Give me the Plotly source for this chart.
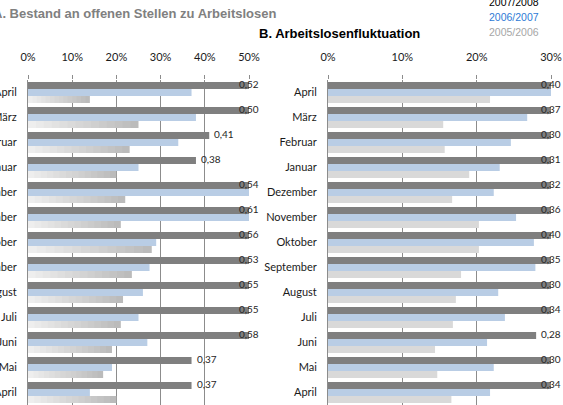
import plotly.graph_objects as go

# ---------------- data ----------------
months = ["April", "März", "Februar", "Januar", "Dezember", "November", "Oktober",
          "September", "August", "Juli", "Juni", "Mai", "April"]
series_names = ["2007/2008", "2006/2007", "2005/2006"]

A_2007 = [0.52, 0.50, 0.41, 0.38, 0.54, 0.61, 0.56, 0.53, 0.55, 0.55, 0.58, 0.37, 0.37]
A_2006 = [0.37, 0.38, 0.34, 0.25, 0.51, 0.52, 0.29, 0.275, 0.26, 0.25, 0.27, 0.19, 0.14]
A_2005 = [0.14, 0.25, 0.23, 0.20, 0.22, 0.21, 0.28, 0.235, 0.215, 0.21, 0.19, 0.17, 0.20]

B_2007 = [0.40, 0.37, 0.30, 0.31, 0.32, 0.36, 0.40, 0.35, 0.30, 0.34, 0.28, 0.30, 0.34]
B_2006 = [0.31, 0.268, 0.246, 0.231, 0.223, 0.253, 0.277, 0.279, 0.229, 0.238, 0.214, 0.223, 0.218]
B_2005 = [0.218, 0.155, 0.157, 0.19, 0.167, 0.203, 0.203, 0.179, 0.172, 0.168, 0.144, 0.147, 0.166]

x_ticks_A = [0, 0.1, 0.2, 0.3, 0.4, 0.5]
x_ticks_B = [0, 0.1, 0.2, 0.3]
title_A = "A. Bestand an offenen Stellen zu Arbeitslosen"
title_B = "B. Arbeitslosenfluktuation"

# ---------------- style ----------------
W, H = 563, 405
DARK = "#7f7f7f"
BLUE = "#b9cde5"
LIGHT = "#d9d9d9"
GRID = "#8c8c8c"
TICKFONT = dict(family="Lato, Calibri, sans-serif", size=11, color="#1a1a1a")
LABELFONT = dict(family="Lato, Calibri, sans-serif", size=10, color="#262626")
TITLEFAMILY = "Liberation Sans, Arial, sans-serif"

ypos = list(range(len(months)))
BARGAP = 0.16
slot = (1 - BARGAP) / 3

fig = go.Figure()


def add_panel(xa, ya, d07, d06, d05, gradient):
    fig.add_trace(go.Bar(y=ypos, x=d07, orientation="h", marker=dict(color=DARK, line_width=0),
                         offsetgroup="a", xaxis=xa, yaxis=ya, showlegend=False, hoverinfo="x"))
    fig.add_trace(go.Bar(y=ypos, x=d06, orientation="h", marker=dict(color=BLUE, line_width=0),
                         offsetgroup="b", xaxis=xa, yaxis=ya, showlegend=False, hoverinfo="x"))
    if gradient:
        n = 14
        c0 = (0xbb, 0xbb, 0xbb)  # right end (dark)
        c1 = (0xee, 0xee, 0xee)  # left end (light)
        for k in range(n):
            t = k / (n - 1)
            col = "rgb(%d,%d,%d)" % tuple(round(c0[i] + (c1[i] - c0[i]) * t) for i in range(3))
            frac = 1 - k / n
            fig.add_trace(go.Bar(y=ypos, x=[v * frac for v in d05], orientation="h",
                                 marker=dict(color=col, line_width=0), offsetgroup="c",
                                 xaxis=xa, yaxis=ya, showlegend=False, hoverinfo="skip"))
    else:
        fig.add_trace(go.Bar(y=ypos, x=d05, orientation="h", marker=dict(color=LIGHT, line_width=0),
                             offsetgroup="c", xaxis=xa, yaxis=ya, showlegend=False, hoverinfo="x"))


add_panel("x", "y", A_2007, A_2006, A_2005, True)
add_panel("x2", "y2", B_2007, B_2006, B_2005, False)

# data labels on the dark series
annotations = []
for xref, yref, vals, xmax in (("x", "y", A_2007, 0.5), ("x2", "y2", B_2007, 0.3)):
    for i, v in enumerate(vals):
        txt = ("%.2f" % v).replace(".", ",")
        clipped = v >= xmax - 1e-9
        annotations.append(dict(
            x=min(v, xmax), y=i - 0.5 + BARGAP / 2 + slot / 2, xref=xref, yref=yref,
            text=txt, showarrow=False, font=LABELFONT,
            xanchor="center" if clipped else "left", xshift=0 if clipped else 3,
            yanchor="middle", yshift=2))

# titles
annotations.append(dict(x=278 / W, y=1 - 14 / H, xref="paper", yref="paper", text="<b>%s</b>" % title_A,
                        showarrow=False, xanchor="right", yanchor="middle",
                        font=dict(family=TITLEFAMILY, size=13, color="#808080")))
annotations.append(dict(x=257 / W, y=1 - 34 / H, xref="paper", yref="paper", text="<b>%s</b>" % title_B,
                        showarrow=False, xanchor="left", yanchor="middle",
                        font=dict(family=TITLEFAMILY, size=13, color="#000000")))

# text-only legend
legend_colors = ["#000000", "#2e7bd6", "#a6a6a6"]
for k, (name, col) in enumerate(zip(series_names, legend_colors)):
    annotations.append(dict(x=487 / W, y=1 - (2 + 15 * k) / H, xref="paper", yref="paper", text=name,
                            showarrow=False, xanchor="left", yanchor="middle",
                            font=dict(family=TITLEFAMILY, size=10.5, color=col)))

plot_top = 80
ydom = [0, 1 - plot_top / H]


def xaxis_cfg(dom, rng, ticks):
    return dict(domain=dom, range=rng, side="top", tickvals=ticks, automargin=False,
                ticktext=["%d%%" % round(t * 100) for t in ticks],
                showgrid=True, gridcolor=GRID, gridwidth=1, zeroline=False, showline=False,
                ticks="outside", ticklen=4, tickcolor=GRID, tickfont=TICKFONT,
                ticklabelstandoff=10, fixedrange=True)


def yaxis_cfg(anchor):
    return dict(domain=ydom, range=[len(months) - 0.5, -0.5], anchor=anchor, automargin=False,
                tickvals=ypos, ticktext=months, showgrid=False, zeroline=False,
                showline=True, linecolor=GRID, linewidth=1, ticks="", tickfont=TICKFONT,
                ticklabelstandoff=8, fixedrange=True)


fig.update_layout(
    width=W, height=H, margin=dict(l=0, r=0, t=0, b=0, pad=0, autoexpand=False),
    paper_bgcolor="white", plot_bgcolor="white",
    barmode="group", bargap=BARGAP, bargroupgap=0,
    showlegend=False,
    xaxis=xaxis_cfg([28 / W, 249 / W], [0, 0.5], x_ticks_A) | dict(anchor="y"),
    yaxis=yaxis_cfg("x"),
    xaxis2=xaxis_cfg([328 / W, 551 / W], [0, 0.3], x_ticks_B) | dict(anchor="y2"),
    yaxis2=yaxis_cfg("x2"),
    annotations=annotations,
)

fig.write_html("out.html", config={"displayModeBar": False},
               post_script="document.body.style.margin='0';document.body.style.overflow='hidden';")
